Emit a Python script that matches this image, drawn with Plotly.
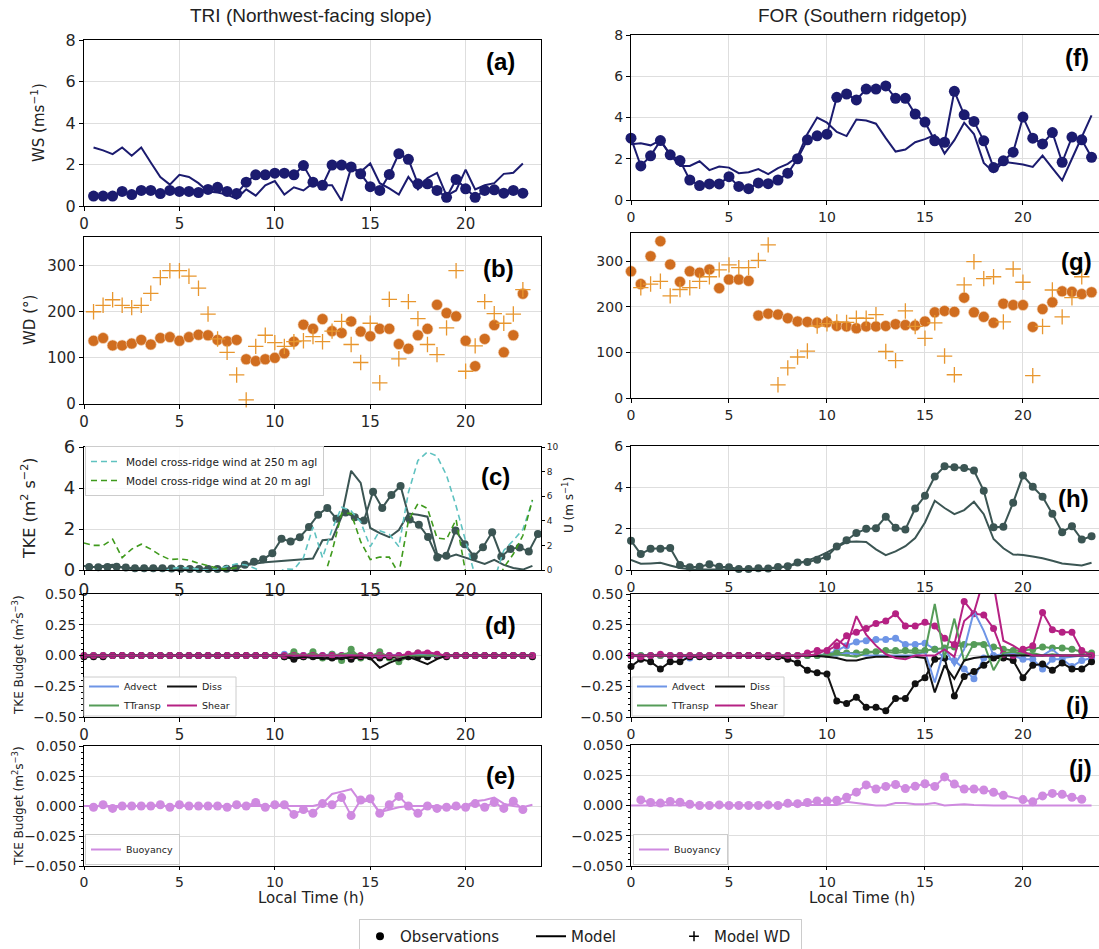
import plotly.graph_objects as go

W, H = 1099, 949

# ---------------- time axes (local time, h) ----------------
HOURS = [0.0, 0.5, 1.0, 1.5, 2.0, 2.5, 3.0, 3.5, 4.0, 4.5,
         5.0, 5.5, 6.0, 6.5, 7.0, 7.5, 8.0, 8.5, 9.0, 9.5,
         10.0, 10.5, 11.0, 11.5, 12.0, 12.5, 13.0, 13.5, 14.0, 14.5,
         15.0, 15.5, 16.0, 16.5, 17.0, 17.5, 18.0, 18.5, 19.0, 19.5,
         20.0, 20.5, 21.0, 21.5, 22.0, 22.5, 23.0, 23.5]
HOURS_TRI = HOURS[1:47]                      # 0.5 .. 23.0
HOURS_BUOY_FOR = HOURS[1:39] + HOURS[40:47]  # 0.5 .. 23.0, no 19.5 record
# sonic TKE record at TRI (sampled every 0.48 h)
HOURS_TKE_TRI = [0.27, 0.75, 1.23, 1.71, 2.19, 2.67, 3.15, 3.63, 4.11, 4.59,
                 5.07, 5.55, 6.03, 6.51, 6.99, 7.47, 7.95, 8.43, 8.91, 9.39,
                 9.87, 10.35, 10.83, 11.31, 11.79, 12.27, 12.75, 13.23, 13.71, 14.19,
                 14.67, 15.15, 15.63, 16.11, 16.59, 17.07, 17.55, 18.03, 18.51, 18.99,
                 19.47, 19.95, 20.43, 20.91, 21.39, 21.87, 22.35, 22.83, 23.31, 23.79]
TICK_HOURS = [0, 5, 10, 15, 20]

# ---------------- TRI (Northwest-facing slope) ----------------
ws_tri_obs = [0.48, 0.48, 0.48, 0.70, 0.55, 0.75, 0.75, 0.60, 0.75, 0.70,
              0.70, 0.65, 0.80, 0.90, 0.70, 0.60, 1.15, 1.50, 1.50, 1.58,
              1.58, 1.50, 1.95, 1.15, 1.00, 1.97, 1.97, 1.88, 1.55, 0.93,
              0.75, 1.52, 2.52, 2.25, 1.07, 1.07, 0.75, 0.42, 1.28, 0.83,
              0.42, 0.75, 0.78, 0.62, 0.75, 0.62]
ws_tri_mod = [2.82, 2.68, 2.50, 2.82, 2.42, 2.82, 2.10, 1.40, 1.03, 1.50,
              1.40, 1.10, 0.70, 0.65, 0.55, 0.35, 0.80, 0.50, 1.00, 1.20,
              0.55, 0.90, 0.75, 1.10, 1.00, 1.00, 0.25, 1.85, 1.65, 2.05,
              1.10, 0.85, 0.55, 1.40, 0.80, 1.35, 1.60, 0.50, 0.75, 1.75,
              0.80, 1.00, 1.10, 1.55, 1.60, 2.05]
wd_tri_obs = [137, 143, 127, 127, 131, 139, 129, 143, 145, 137,
              145, 150, 149, 139, 136, 139, 97, 93, 97, 100,
              110, 135, 172, 163, 184, 158, 154, 179, 157, 147,
              163, 163, 130, 120, 149, 163, 215, 197, 190, 137,
              82, 141, 171, 112, 149, 239]
wd_tri_mod = [200, 214, 226, 214, 209, 214, 240, 274, 289, 289,
              277, 251, 195, 141, 112, 63, 9, 125, 149, 133,
              125, 135, 137, 146, 135, 158, 179, 129, 90, 175,
              46, 227, 98, 222, 185, 129, 107, 165, 289, 71,
              126, 222, 196, 175, 195, 248]
tke_tri_obs = [0.15, 0.14, 0.15, 0.16, 0.12, 0.09, 0.08, 0.08, 0.08, 0.07,
               0.06, 0.05, 0.05, 0.05, 0.05, 0.06, 0.10, 0.25, 0.40, 0.52,
               0.82, 1.52, 1.39, 1.60, 2.10, 2.70, 3.03, 2.50, 2.80, 2.57,
               2.41, 3.82, 3.03, 3.66, 4.10, 2.46, 2.21, 1.61, 0.61, 0.70,
               1.93, 1.26, 0.66, 1.11, 1.84, 0.66, 1.03, 1.10, 0.90, 1.75]
tke_tri_mod = [0.20, 0.15, 0.20, 0.25, 0.12, 0.05, 0.05, 0.03, 0.03, 0.02,
               0.02, 0.02, 0.02, 0.02, 0.03, 0.05, 0.15, 0.25, 0.32, 0.38,
               0.42, 0.45, 0.50, 0.52, 0.56, 1.45, 1.50, 2.60, 4.84, 4.25,
               2.05, 1.80, 1.60, 1.95, 2.75, 2.70, 2.60, 0.80, 0.60, 0.75,
               0.60, 0.45, 0.30, 0.50, 0.25, 0.10, 0.02, 0.20]
u250_tri_mod = [-0.3, -0.3, -0.3, -0.3, -0.3, -0.3, -0.3, -0.3, -0.3, 0.1,
                0.2, 0.15, 0.05, 0.0, 0.1, 0.3, 0.5, 0.4, 0.1, -0.3,
                -0.5, 0.1, 0.05, 1.0, 3.5, 1.0, 3.3, 5.1, 4.8, 3.9,
                1.9, 3.2, 2.9, 1.9, 6.3, 8.9, 9.6, 9.25, 7.7, 5.2,
                2.5, -0.5, -2.0, -0.8, 1.6, 2.4, 3.3, 5.6]
u20_tri_mod = [2.2, 2.0, 2.0, 2.5, 1.0, 1.7, 2.1, 1.7, 1.2, 0.85,
               0.9, 0.8, 0.55, 0.35, 0.15, 0.05, 0.2, -0.3, -1.0, -1.5,
               -2.0, -2.0, -2.0, -1.5, -1.2, -1.0, 1.5, 4.6, 4.6, 2.3,
               0.85, 1.05, 1.05, -0.3, 4.0, 5.4, 5.0, 2.6, 2.5, 4.1,
               -0.2, -2.0, -2.5, -1.5, 0.2, 1.3, 2.8, 5.7]
adv_tri_obs = [0.0, 0.0, 0.0, 0.0, 0.0, 0.0, 0.0, 0.0, 0.0, 0.0,
               0.0, 0.0, 0.0, 0.0, 0.0, 0.0, 0.0, 0.0, 0.0, 0.0,
               0.0, 0.01, 0.0, 0.0, 0.01, 0.0, 0.01, 0.0, 0.0, -0.01,
               0.0, 0.01, 0.0, 0.0, 0.0, 0.01, 0.0, 0.0, 0.0, 0.0,
               0.0, 0.0, 0.0, 0.0, 0.0, 0.0, 0.0, 0.0]
ttr_tri_obs = [0.0, 0.0, 0.0, 0.0, 0.0, 0.0, 0.0, 0.0, 0.0, 0.0,
               0.0, 0.0, 0.0, 0.0, 0.0, 0.0, 0.0, 0.0, 0.0, 0.0,
               0.0, -0.01, 0.03, -0.01, 0.03, -0.02, 0.01, -0.04, 0.05, -0.02,
               -0.01, 0.03, -0.02, -0.05, -0.01, 0.02, 0.0, 0.0, 0.0, 0.0,
               0.0, 0.0, 0.0, 0.0, 0.0, 0.0, 0.0, 0.0]
diss_tri_obs = [-0.01, -0.01, -0.01, 0.0, 0.0, 0.0, 0.0, 0.0, 0.0, 0.0,
                0.0, 0.0, 0.0, 0.0, 0.0, 0.0, 0.0, 0.0, 0.0, 0.0,
                0.0, -0.01, -0.03, -0.01, -0.01, -0.01, -0.02, -0.01, -0.03, -0.01,
                -0.01, -0.02, -0.01, -0.02, -0.01, -0.01, -0.01, 0.0, -0.01, 0.0,
                0.0, 0.0, 0.0, 0.0, 0.0, 0.0, 0.0, -0.01]
shear_tri_obs = [0.0, 0.0, 0.0, 0.0, 0.0, 0.0, 0.0, 0.0, 0.0, 0.0,
                 0.0, 0.0, 0.0, 0.0, 0.0, 0.0, 0.0, 0.0, 0.0, 0.0,
                 0.0, 0.0, 0.0, 0.0, 0.0, 0.0, 0.0, 0.0, 0.0, 0.0,
                 0.0, 0.0, 0.0, 0.0, 0.01, 0.02, 0.02, 0.01, 0.0, 0.0,
                 0.0, 0.0, 0.0, 0.0, 0.0, 0.0, 0.0, 0.0]
adv_tri_mod = [0.0, 0.0, 0.0, 0.0, 0.0, 0.0, 0.0, 0.0, 0.0, 0.0,
               0.0, 0.0, 0.0, 0.0, 0.0, 0.0, 0.0, 0.0, 0.0, 0.0,
               0.0, 0.0, 0.0, 0.0, 0.0, 0.0, 0.0, 0.0, 0.0, 0.0,
               0.0, 0.0, 0.0, 0.0, 0.0, 0.01, 0.0, 0.0, 0.0, 0.0,
               0.0, 0.0, 0.0, 0.0, 0.0, 0.0, 0.0, 0.0]
ttr_tri_mod = [0.0, 0.0, 0.0, 0.0, 0.0, 0.0, 0.0, 0.0, 0.0, 0.0,
               0.0, 0.0, 0.0, 0.0, 0.0, 0.0, 0.0, 0.0, 0.0, 0.0,
               0.0, 0.0, 0.01, 0.0, 0.01, 0.0, 0.0, 0.01, 0.02, 0.0,
               0.0, 0.01, 0.0, -0.01, 0.0, 0.0, 0.0, 0.0, 0.0, 0.0,
               0.0, 0.0, 0.0, 0.0, 0.0, 0.0, 0.0, 0.0]
diss_tri_mod = [0.0, 0.0, 0.0, 0.0, 0.0, 0.0, 0.0, 0.0, 0.0, 0.0,
                0.0, 0.0, 0.0, 0.0, 0.0, 0.0, 0.0, 0.0, 0.0, 0.0,
                0.0, 0.0, -0.02, -0.01, -0.02, -0.02, -0.03, -0.02, -0.01, -0.01,
                -0.02, -0.10, -0.06, -0.03, -0.01, -0.04, -0.07, -0.03, 0.0, 0.0,
                0.0, 0.0, 0.0, 0.0, 0.0, 0.0, 0.0, 0.0]
shear_tri_mod = [0.0, 0.0, 0.0, 0.0, 0.0, 0.0, 0.0, 0.0, 0.0, 0.0,
                 0.0, 0.0, 0.0, 0.0, 0.0, 0.0, 0.0, 0.0, 0.0, 0.0,
                 0.0, 0.0, 0.0, 0.0, 0.0, 0.0, 0.0, 0.0, 0.0, 0.0,
                 0.0, 0.0, 0.0, 0.0, 0.01, 0.02, 0.03, 0.01, 0.0, 0.0,
                 0.0, 0.0, 0.0, 0.0, 0.0, 0.0, 0.0, 0.0]
buoy_tri_obs = [-0.001, 0.001, -0.002, 0.0, 0.0, 0.0, 0.0, 0.001, -0.001, 0.001,
                0.0, 0.0, 0.0, 0.0, -0.001, 0.001, 0.0, 0.003, -0.001, 0.001,
                0.001, -0.007, -0.003, -0.006, 0.002, 0.001, 0.007, -0.008, 0.005, 0.006,
                -0.006, 0.001, 0.008, 0.0, -0.006, 0.0, -0.002, -0.001, 0.0, -0.001,
                0.002, -0.001, 0.003, -0.002, 0.004, -0.003]
buoy_tri_mod = [0.0, 0.0, 0.0, 0.0, 0.0, 0.0, 0.0, 0.0, 0.0, 0.0,
                0.0, 0.0, 0.0, 0.0, 0.0, 0.0, 0.0, 0.0, 0.0, 0.0,
                0.0, 0.0, 0.0, 0.0, 0.0, 0.002, 0.010, 0.012, 0.014, 0.003,
                0.005, -0.005, -0.003, -0.001, 0.0, 0.0, 0.0, 0.0, -0.001, -0.002,
                0.0, 0.004, 0.005, 0.007, 0.002, 0.0, -0.001, 0.001]

# ---------------- FOR (Southern ridgetop) ----------------
ws_for_obs = [3.00, 1.65, 2.14, 2.88, 2.19, 1.91, 0.97, 0.70, 0.78, 0.78,
              1.13, 0.66, 0.55, 0.83, 0.79, 0.97, 1.30, 2.00, 2.92, 3.11,
              3.19, 4.98, 5.14, 4.85, 5.38, 5.38, 5.53, 4.93, 4.93, 4.17,
              3.78, 2.87, 2.80, 5.27, 4.13, 3.81, 2.87, 1.57, 1.90, 2.32,
              4.02, 3.00, 2.72, 3.27, 1.83, 3.05, 2.92, 2.07]
ws_for_mod = [2.70, 2.75, 2.65, 2.90, 2.20, 1.65, 1.65, 1.88, 1.45, 1.62,
              1.57, 1.30, 1.35, 1.50, 1.25, 1.55, 1.75, 2.10, 3.20, 4.00,
              3.75, 3.30, 3.10, 3.90, 3.85, 3.70, 3.00, 2.35, 2.45, 2.80,
              2.95, 3.15, 2.25, 2.90, 3.75, 3.20, 1.80, 1.35, 1.85, 1.80,
              1.72, 1.60, 2.15, 1.55, 0.95, 2.00, 3.05, 4.10]
wd_for_obs = [278, 250, 311, 344, 293, 255, 278, 275, 282, 241,
              260, 260, 257, 181, 185, 183, 175, 168, 167, 165,
              166, 158, 157, 153, 157, 157, 158, 162, 160, 159,
              168, 188, 191, 189, 220, 188, 178, 165, 207, 204,
              204, 156, 195, 210, 234, 233, 228, 232]
wd_for_mod = [242, 250, 256, 224, 238, 242, 256, 266, 281, 292,
              286, 286, 302, 336, 29, 66, 90, 103, 158, 163,
              167, 166, 175, 175, 183, 102, 82, 191, 157, 131,
              165, 92, 51, 248, 299, 262, 266, 167, 283, 254,
              49, 157, 237, 178, 220, 266]
tke_for_obs = [1.42, 0.77, 1.03, 1.03, 1.06, 0.24, 0.13, 0.16, 0.28, 0.16,
               0.13, 0.05, 0.05, 0.08, 0.07, 0.15, 0.18, 0.36, 0.39, 0.49,
               0.65, 1.14, 1.44, 1.79, 1.99, 2.02, 2.58, 2.04, 1.96, 2.97,
               3.59, 4.52, 5.02, 4.97, 4.93, 4.81, 3.83, 2.07, 2.09, 3.26,
               4.57, 4.03, 3.54, 2.72, 1.83, 2.12, 1.47, 1.63]
tke_for_mod = [0.49, 0.30, 0.32, 0.35, 0.22, 0.10, 0.04, 0.03, 0.02, 0.02,
               0.02, 0.02, 0.03, 0.04, 0.06, 0.10, 0.18, 0.30, 0.45, 0.62,
               0.85, 1.10, 1.35, 1.38, 1.36, 1.00, 0.72, 0.90, 1.15, 1.55,
               2.30, 3.35, 3.00, 2.70, 2.90, 3.30, 2.70, 1.50, 1.05, 0.75,
               0.73, 0.65, 0.57, 0.45, 0.32, 0.27, 0.22, 0.35]
adv_for_obs = [0.0, 0.0, 0.0, 0.0, 0.0, 0.0, -0.02, 0.0, 0.0, 0.0,
               0.0, 0.0, 0.0, 0.0, 0.0, 0.0, 0.0, 0.0, 0.0, 0.0,
               0.01, 0.04, 0.08, 0.11, 0.12, 0.13, 0.13, 0.14, 0.09, 0.09,
               0.10, 0.05, -0.02, -0.04, -0.11, -0.19, -0.02, 0.0, 0.0, 0.0,
               -0.03, -0.03, -0.11, -0.03, -0.03, -0.09, -0.04, -0.02]
ttr_for_obs = [0.0, 0.0, 0.0, 0.0, 0.0, 0.0, 0.0, 0.0, 0.0, 0.0,
               0.0, 0.0, 0.0, 0.0, 0.0, 0.0, 0.0, 0.0, 0.0, 0.0,
               0.01, 0.02, 0.02, 0.02, 0.03, 0.03, 0.04, 0.04, 0.04, 0.04,
               0.04, 0.05, 0.06, 0.07, 0.09, 0.09, 0.09, 0.07, 0.05, 0.04,
               0.04, 0.05, 0.07, 0.06, 0.06, 0.05, 0.03, 0.02]
diss_for_obs = [-0.09, -0.03, -0.05, -0.11, -0.05, -0.05, -0.01, -0.01, -0.01, 0.0,
                0.0, 0.0, 0.0, 0.0, -0.01, -0.01, -0.03, -0.06, -0.12, -0.14,
                -0.15, -0.37, -0.39, -0.34, -0.42, -0.42, -0.45, -0.35, -0.35, -0.23,
                -0.18, -0.03, -0.02, -0.33, -0.17, -0.13, -0.08, -0.02, -0.02, -0.04,
                -0.18, -0.08, -0.07, -0.12, -0.06, -0.11, -0.11, -0.05]
shear_for_obs = [0.0, -0.01, 0.0, 0.01, 0.0, 0.0, 0.0, 0.0, 0.0, 0.0,
                 0.0, 0.0, 0.0, 0.0, 0.0, 0.0, 0.0, 0.0, 0.02, 0.04,
                 0.04, 0.08, 0.16, 0.19, 0.22, 0.26, 0.28, 0.34, 0.24, 0.24,
                 0.27, 0.24, 0.14, 0.09, 0.44, 0.34, 0.33, 0.22, 0.01, 0.0,
                 0.05, 0.08, 0.35, 0.21, 0.19, 0.19, 0.04, 0.0]
adv_for_mod = [0.0, 0.0, 0.0, 0.0, 0.0, 0.0, 0.0, 0.0, 0.0, 0.0,
               0.0, 0.0, 0.0, 0.0, 0.0, 0.0, 0.0, 0.0, 0.0, 0.0,
               0.0, 0.0, 0.02, 0.01, 0.0, 0.0, 0.0, 0.0, 0.0, 0.0,
               0.03, -0.22, 0.06, -0.08, 0.05, 0.36, 0.20, 0.0, 0.01, 0.02,
               0.0, 0.0, 0.0, 0.05, -0.02, -0.01, 0.0, 0.0]
ttr_for_mod = [0.0, 0.0, 0.0, 0.0, 0.0, 0.0, 0.0, 0.0, 0.0, 0.0,
               0.0, 0.0, 0.0, 0.0, 0.0, 0.0, 0.0, 0.0, 0.0, 0.0,
               0.0, 0.01, 0.0, -0.01, 0.02, 0.03, 0.03, 0.02, 0.03, 0.02,
               0.03, 0.42, -0.02, 0.30, -0.05, 0.10, 0.10, -0.12, 0.02, 0.03,
               0.01, 0.02, 0.0, 0.01, 0.0, 0.0, 0.0, 0.0]
diss_for_mod = [0.0, 0.0, 0.0, 0.0, 0.0, 0.0, 0.0, 0.0, 0.0, 0.0,
                0.0, 0.0, 0.0, 0.0, 0.0, 0.0, 0.0, 0.0, 0.0, -0.005,
                -0.01, -0.02, -0.04, -0.04, -0.02, -0.01, -0.01, -0.01, -0.01, -0.01,
                -0.02, -0.30, -0.08, -0.19, -0.04, -0.02, -0.01, -0.01, 0.0, 0.0,
                0.0, 0.0, 0.0, 0.0, 0.0, 0.0, 0.0, 0.0]
shear_for_mod = [0.0, 0.0, 0.0, 0.0, 0.0, 0.0, 0.0, 0.0, 0.0, 0.0,
                 0.0, 0.0, 0.0, 0.0, 0.0, 0.0, 0.0, 0.0, 0.0, 0.01,
                 0.05, 0.13, 0.07, 0.32, 0.17, 0.08, 0.01, -0.02, -0.03, 0.0,
                 0.0, 0.0, 0.05, -0.01, 0.28, 0.35, 0.62, 0.58, 0.12, 0.08,
                 0.03, 0.0, 0.0, 0.0, 0.0, 0.0, 0.0, 0.0]
buoy_for_obs = [0.0046, 0.0025, 0.0020, 0.0033, 0.0027, 0.0010, 0.0, 0.0, 0.0005, 0.0,
                0.0, 0.0, 0.0, 0.0005, 0.0, 0.0018, 0.0015, 0.0025, 0.0038, 0.0038,
                0.0043, 0.0068, 0.0110, 0.0170, 0.0136, 0.0158, 0.0174, 0.0140, 0.0160, 0.0180,
                0.0158, 0.0236, 0.0177, 0.0136, 0.0136, 0.0128, 0.0109, 0.0084,
                0.0049, 0.0030, 0.0079, 0.0100, 0.0092, 0.0068, 0.0052]
buoy_for_mod = [0.0, 0.0, 0.0, 0.0, 0.0, 0.0, 0.0, 0.0, 0.0, 0.0,
                0.0, 0.0, 0.0, 0.0, 0.0, 0.0, 0.0, 0.0, 0.0, 0.0,
                0.0, 0.0005, 0.003, 0.002, 0.001, 0.0, 0.0, 0.002, 0.002, 0.001,
                0.001, 0.002, 0.0, 0.0005, 0.001, 0.0005, 0.0, 0.0, 0.0, 0.0,
                0.0, 0.0, 0.0, 0.0, 0.0, 0.0, 0.0, 0.0]

# ---------------- colours ----------------
NAVY = "#1b1b6f"
WD_OBS = "#d06d1f"
WD_MOD = "#e8962e"
SLATE = "#3b5553"
CYAN = "#5fc2c0"
GREEN_DASH = "#3f9a1c"
ADVECT = "#6e95e6"
TTRANSP = "#559c58"
DISS = "#111111"
SHEAR = "#b52183"
BUOY = "#cf8ae0"
GRID = "#dedede"

fig = go.Figure()


def sfx(n):
    return "" if n == 1 else str(n)


def line(x, y, n, color, width=2.0, yaxis=None, **kw):
    fig.add_trace(go.Scatter(
        x=x, y=y, mode="lines", xaxis="x" + sfx(n), yaxis=yaxis or "y" + sfx(n),
        line=dict(color=color, width=width, dash=kw.pop("dash", "solid")),
        showlegend=kw.pop("showlegend", False), hoverinfo="skip", **kw))


def obs(x, y, n, color, size, with_line=True, edge=None):
    fig.add_trace(go.Scatter(
        x=x, y=y, mode="lines+markers" if with_line else "markers",
        xaxis="x" + sfx(n), yaxis="y" + sfx(n),
        line=dict(color=color, width=2.0),
        marker=dict(color=color, size=size,
                    line=dict(color=edge or color, width=0.6 if edge else 0)),
        cliponaxis=False, showlegend=False, hoverinfo="skip"))


def crosses(x, y, n, color):
    fig.add_trace(go.Scatter(
        x=x, y=y, mode="markers", xaxis="x" + sfx(n), yaxis="y" + sfx(n),
        marker=dict(symbol="cross-thin-open", size=11, color=color,
                    line=dict(color=color, width=1.3)),
        cliponaxis=False, showlegend=False, hoverinfo="skip"))


# (a) / (f) wind speed
line(HOURS_TRI, ws_tri_mod, 1, NAVY)
obs(HOURS_TRI, ws_tri_obs, 1, NAVY, 11)
line(HOURS, ws_for_mod, 6, NAVY)
obs(HOURS, ws_for_obs, 6, NAVY, 11)

# (b) / (g) wind direction
obs(HOURS_TRI, wd_tri_obs, 2, WD_OBS, 11, with_line=False, edge="#f4d9c0")
crosses(HOURS_TRI, wd_tri_mod, 2, WD_MOD)
obs(HOURS, wd_for_obs, 7, WD_OBS, 11, with_line=False, edge="#f4d9c0")
crosses(HOURS_TRI, wd_for_mod, 7, WD_MOD)

# (c) TKE with cross-ridge wind on the twin axis
line(HOURS, u250_tri_mod, 3, CYAN, width=1.6, yaxis="y11", dash="6px,4px",
     showlegend=True, name="Model cross-ridge wind at 250 m agl", legend="legend2")
line(HOURS, u20_tri_mod, 3, GREEN_DASH, width=1.6, yaxis="y11", dash="6px,4px",
     showlegend=True, name="Model cross-ridge wind at 20 m agl", legend="legend2")
line(HOURS, tke_tri_mod, 3, SLATE)
obs(HOURS_TKE_TRI, tke_tri_obs, 3, SLATE, 8)

# (h) TKE
line(HOURS, tke_for_mod, 8, SLATE)
obs(HOURS, tke_for_obs, 8, SLATE, 8)

# (d) / (i) TKE budget terms
for n, leg_a, leg_b, series in [
    (4, "legend3", "legend4",
     [(adv_tri_obs, adv_tri_mod, ADVECT, "Advect"), (ttr_tri_obs, ttr_tri_mod, TTRANSP, "TTransp"),
      (diss_tri_obs, diss_tri_mod, DISS, "Diss"), (shear_tri_obs, shear_tri_mod, SHEAR, "Shear")]),
    (9, "legend5", "legend6",
     [(adv_for_obs, adv_for_mod, ADVECT, "Advect"), (ttr_for_obs, ttr_for_mod, TTRANSP, "TTransp"),
      (diss_for_obs, diss_for_mod, DISS, "Diss"), (shear_for_obs, shear_for_mod, SHEAR, "Shear")]),
]:
    for o, m, c, name in series:
        obs(HOURS, o, n, c, 7)
    for o, m, c, name in series:
        line(HOURS, m, n, c, showlegend=True, name=name,
             legend=leg_a if name in ("Advect", "TTransp") else leg_b)

# (e) / (j) buoyancy
line(HOURS, buoy_tri_mod, 5, BUOY, showlegend=True, name="Buoyancy", legend="legend7")
obs(HOURS_TRI, buoy_tri_obs, 5, BUOY, 9)
line(HOURS, buoy_for_mod, 10, BUOY, showlegend=True, name="Buoyancy", legend="legend8")
obs(HOURS_BUOY_FOR, buoy_for_obs, 10, BUOY, 9)

# shared key at the bottom
fig.add_trace(go.Scatter(x=[None], y=[None], mode="markers", name="Observations",
                         marker=dict(color="black", size=8), legend="legend", legendwidth=126))
fig.add_trace(go.Scatter(x=[None], y=[None], mode="lines", name="Model",
                         line=dict(color="black", width=2), legend="legend", legendwidth=98))
fig.add_trace(go.Scatter(x=[None], y=[None], mode="markers", name="Model WD",
                         marker=dict(symbol="cross-thin-open", size=7, color="black",
                                     line=dict(color="black", width=1.5)),
                         legend="legend", legendwidth=82))

# ---------------- axes ----------------
LEFT_X = (84, 541, 23.95)
RIGHT_X = (631, 1099, 23.88)
PANELS = [
    # n, column, top px, bottom px, y range, y ticks, y tick font, x tick font, format
    (1, LEFT_X, 40, 206, [0, 8], [0, 2, 4, 6, 8], 16, 15, None),
    (2, LEFT_X, 237, 404, [0, 362], [0, 100, 200, 300], 15, 15, None),
    (3, LEFT_X, 447, 570, [0, 6], [0, 2, 4, 6], 18, 17, None),
    (4, LEFT_X, 594, 717, [-0.5, 0.5], [-0.5, -0.25, 0, 0.25, 0.5], 14, 15, ".2f"),
    (5, LEFT_X, 746, 866, [-0.05, 0.05], [-0.05, -0.025, 0, 0.025, 0.05], 14, 14, ".3f"),
    (6, RIGHT_X, 35, 200, [0, 8], [0, 2, 4, 6, 8], 14, 14, None),
    (7, RIGHT_X, 233, 398, [0, 362], [0, 100, 200, 300], 14, 14, None),
    (8, RIGHT_X, 446, 570, [0, 6], [0, 2, 4, 6], 14, 14, None),
    (9, RIGHT_X, 594, 717, [-0.5, 0.5], [-0.5, -0.25, 0, 0.25, 0.5], 14, 14, ".2f"),
    (10, RIGHT_X, 745, 866, [-0.05, 0.05], [-0.05, -0.025, 0, 0.025, 0.05], 14, 14, ".3f"),
]

axes = {}
for n, (xl, xr, xmax), top, bot, yr, yt, yfs, xfs, fmt in PANELS:
    common = dict(showline=True, linecolor="black", linewidth=1.2, mirror=True,
                  ticks="outside", ticklen=4, tickcolor="black", tickwidth=1,
                  showgrid=True, gridcolor=GRID, gridwidth=1, zeroline=False)
    xa = dict(common, domain=[xl / W, min(xr / W, 1.0)], range=[0, xmax],
              tickvals=TICK_HOURS, anchor="y" + sfx(n),
              tickfont=dict(family="DejaVu Sans", color="#262626", size=xfs))
    if n in (5, 10):
        xa["ticklen"] = 3
    ya = dict(common, domain=[1 - bot / H, 1 - top / H], range=yr, tickvals=yt,
              anchor="x" + sfx(n),
              tickfont=dict(family="DejaVu Sans", color="#262626", size=yfs))
    if fmt:
        ya["tickformat"] = fmt
        step = 0.05 if fmt == ".2f" else 0.005
        ya["minor"] = dict(ticks="outside", ticklen=2, tickcolor="black", dtick=step, showgrid=False)
    axes["xaxis" + sfx(n)] = xa
    axes["yaxis" + sfx(n)] = ya

axes["yaxis11"] = dict(overlaying="y3", side="right", anchor="x3", range=[0, 10],
                       tickvals=[0, 2, 4, 6, 8, 10], ticks="outside", ticklen=3,
                       tickcolor="black", showgrid=False, zeroline=False, showline=False,
                       tickfont=dict(family="DejaVu Sans", size=9, color="#262626"))

fig.update_layout(**axes)

# ---------------- text ----------------
ann = []


def text(x, y, s, size, family="DejaVu Sans", bold=False, angle=0, color="#222222"):
    ann.append(dict(x=x / W, y=1 - y / H, xref="paper", yref="paper",
                    text=f"<b>{s}</b>" if bold else s,
                    showarrow=False, textangle=angle, xanchor="center", yanchor="middle",
                    font=dict(family=family, size=size, color=color)))


text(311, 15, "TRI (Northwest-facing slope)", 19, family="Liberation Sans")
text(862, 15, "FOR (Southern ridgetop)", 19, family="Liberation Sans")
text(311, 898, "Local Time (h)", 15)
text(862, 898, "Local Time (h)", 15)

text(38, 123, "WS (ms<sup>−1</sup>)", 15, angle=-90)
text(30, 320, "WD (°)", 15, angle=-90)
text(28, 508, "TKE (m<sup>2</sup> s<sup>−2</sup>)", 16, angle=-90)
text(18, 655, "TKE Budget (m<sup>2</sup>s<sup>−3</sup>)", 12, angle=-90)
text(18, 806, "TKE Budget (m<sup>2</sup>s<sup>−3</sup>)", 12, angle=-90)
text(568, 505, "U (m s<sup>−1</sup>)", 12, angle=-90)

for lab, x, y in [("(a)", 500, 62), ("(b)", 498, 268), ("(c)", 495, 477), ("(d)", 500, 625),
                  ("(e)", 500, 775), ("(f)", 1077, 57), ("(g)", 1076, 262), ("(h)", 1073, 498),
                  ("(i)", 1077, 705), ("(j)", 1080, 768)]:
    text(x, y, lab, 24, family="Liberation Sans", bold=True, color="black")

# backing boxes of the two-column budget keys
shapes = []
for x0, x1, y0, y1 in [(84, 236, 677, 716), (632, 784, 677, 716)]:
    shapes.append(dict(type="rect", xref="paper", yref="paper", x0=x0 / W, x1=x1 / W,
                       y0=1 - y1 / H, y1=1 - y0 / H, layer="above",
                       fillcolor="rgba(255,255,255,0.9)", line=dict(color="#cccccc", width=1)))


def cx(p):
    return p / W


def cy(p):
    return 1 - p / H


leg_small = dict(xref="container", yref="container", xanchor="left", yanchor="bottom",
                 bgcolor="rgba(0,0,0,0)", borderwidth=0,
                 font=dict(family="DejaVu Sans", size=9.5, color="#222222"),
                 itemwidth=30, tracegroupgap=0)
leg_boxed = dict(xref="container", yref="container", xanchor="left", yanchor="bottom",
                 bgcolor="rgba(255,255,255,0.9)", bordercolor="#cccccc", borderwidth=1,
                 font=dict(family="DejaVu Sans", size=9.5, color="#222222"), itemwidth=30)
fig.update_layout(
    width=W, height=H, margin=dict(l=0, r=0, t=0, b=0, autoexpand=False),
    paper_bgcolor="white", plot_bgcolor="white",
    font=dict(family="DejaVu Sans", color="#222222"),
    annotations=ann, shapes=shapes, showlegend=True,
    legend=dict(xref="container", yref="container", x=cx(359), y=cy(919),
                xanchor="left", yanchor="top", orientation="h",
                bgcolor="white", bordercolor="#cccccc", borderwidth=1,
                font=dict(family="DejaVu Sans", size=15, color="#222222"), itemwidth=30),
    legend2=dict(xref="container", yref="container", x=cx(85), y=cy(446),
                 xanchor="left", yanchor="top",
                 bgcolor="rgba(255,255,255,0.85)", bordercolor="#cccccc", borderwidth=1,
                 font=dict(family="DejaVu Sans", size=10.5, color="#222222"), itemwidth=30),
    legend3=dict(leg_small, x=cx(84), y=cy(720)),
    legend4=dict(leg_small, x=cx(162), y=cy(720)),
    legend5=dict(leg_small, x=cx(632), y=cy(720)),
    legend6=dict(leg_small, x=cx(710), y=cy(720)),
    legend7=dict(leg_boxed, x=cx(85), y=cy(865)),
    legend8=dict(leg_boxed, x=cx(633), y=cy(865)),
)

fig.write_html("out.html")
